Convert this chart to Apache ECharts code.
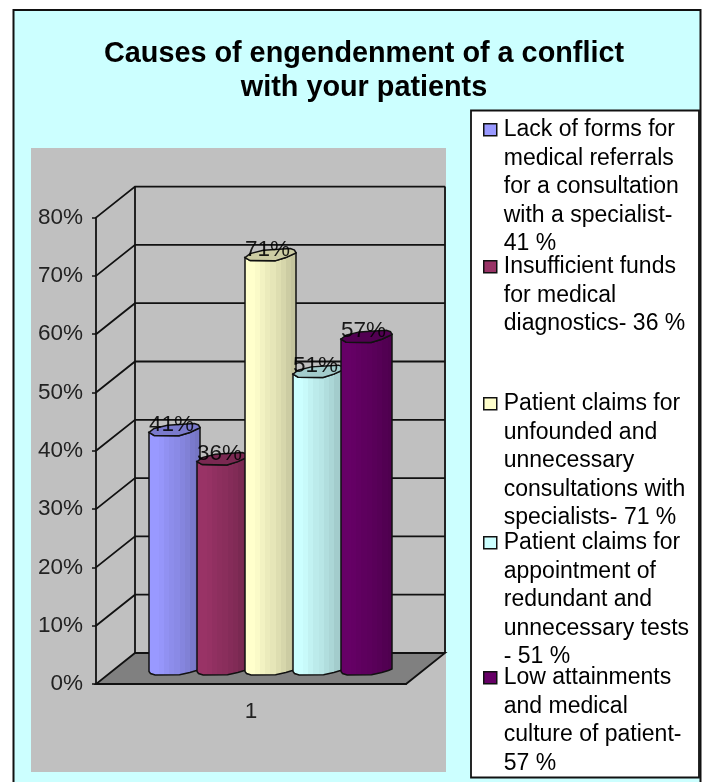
<!DOCTYPE html>
<html>
<head>
<meta charset="utf-8">
<style>html,body{margin:0;padding:0;background:#fff}#c{width:705px;height:782px}</style>
<script src="https://cdn.jsdelivr.net/npm/echarts@6/dist/echarts.min.js"></script>
</head>
<body>
<div id="c"></div>
<script>
const categories = ['1'];
const titleText = 'Causes of engendenment of a conflict\nwith your patients';
const names = [
  'Lack of forms for\nmedical referrals\nfor a consultation\nwith a specialist-\n41 %',
  'Insufficient funds\nfor medical\ndiagnostics- 36 %',
  'Patient claims for\nunfounded and\nunnecessary\nconsultations with\nspecialists- 71 %',
  'Patient claims for\nappointment of\nredundant and\nunnecessary tests\n- 51 %',
  'Low attainments\nand medical\nculture of patient-\n57 %'
];
const values = [41, 36, 71, 51, 57];
const labels = ['41%', '36%', '71%', '51%', '57%'];
const gridValues = [0, 10, 20, 30, 40, 50, 60, 70, 80];
const colors = ['#9999FF', '#993366', '#FFFFCC', '#CCFFFF', '#660066'];

const FONT = '"Liberation Sans", Arial, sans-serif';
const DEPTH = [39, -31];
const LINE = '#111';
const BARW = 51, STEP = 48;
const legendFirstLine = [129, 266, 403, 542, 677];
const LH = 28.6;

function shade(hex, k) {
  const n = parseInt(hex.slice(1), 16);
  const f = v => Math.round(v * k);
  return `rgb(${f(n >> 16 & 255)},${f(n >> 8 & 255)},${f(n & 255)})`;
}
function facets(hex) {
  const ks = [1, 1, 0.98, 0.95, 0.92, 0.9, 0.87, 0.84, 0.8, 0.77];
  const stops = [];
  ks.forEach((k, i) => {
    stops.push({offset: i / ks.length, color: shade(hex, k)});
    stops.push({offset: (i + 1) / ks.length, color: shade(hex, k)});
  });
  return new echarts.graphic.LinearGradient(0, 0, 1, 0, stops);
}
const capShape = [[0,3],[0.1,6],[0.59,6.3],[0.8,3],[1,-1.7],[0.97,-4.5],[0.89,-6],[0.36,-4.3],[0.1,-1]];
const baseShape = [[1,0.5],[0.93,2],[0.8,4],[0.6,6.3],[0.12,6.5],[0.03,5],[0,3]];

function wallItem(params, api) {
  const v = api.value(1);
  const w = api.size([1, 0])[0];
  const p = api.coord([0, v]);
  const x0 = p[0] - w / 2, x1 = p[0] + w / 2, y = p[1];
  const dx = DEPTH[0], dy = DEPTH[1];
  const ls = {stroke: LINE, lineWidth: 1.8, fill: null};
  const children = [];
  if (v === 0) {
    const top = api.coord([0, gridValues[gridValues.length - 1]])[1];
    children.push({type: 'polygon', shape: {points: [[x0, y], [x1, y], [x1 + dx, y + dy], [x0 + dx, y + dy]]},
      style: {fill: '#808080', stroke: LINE, lineWidth: 1.8}});
    children.push({type: 'polyline', shape: {points: [[x0 + dx, y + dy], [x0 + dx, top + dy]]}, style: ls});
    children.push({type: 'polyline', shape: {points: [[x1 + dx, y + dy], [x1 + dx, top + dy]]}, style: ls});
  } else {
    children.push({type: 'polyline', shape: {points: [[x0, y], [x0 + dx, y + dy], [x1 + dx, y + dy]]}, style: ls});
  }
  return {type: 'group', children};
}
function barItem(i) {
  return function (params, api) {
    const base = api.coord([0, 0]);
    const top = api.coord([0, api.value(1)]);
    const cx = base[0] + DEPTH[0] / 2 + (i - 2) * STEP;
    const left = cx - BARW / 2;
    const by = base[1] + DEPTH[1] / 2, ty = top[1] + DEPTH[1] / 2;
    const capPts = capShape.map(c => [left + c[0] * BARW, ty + c[1]]);
    const front = capShape.slice(0, 5).map(c => [left + c[0] * BARW, ty + c[1]]);
    const bottom = baseShape.map(c => [left + c[0] * BARW, by + c[1]]);
    return {type: 'group', children: [
      {type: 'polygon', shape: {points: front.concat(bottom)},
        style: {fill: facets(colors[i]), stroke: LINE, lineWidth: 1.5}},
      {type: 'polygon', shape: {points: capPts},
        style: {fill: shade(colors[i], 0.8), stroke: LINE, lineWidth: 1.5}},
      {type: 'text', z2: 100, style: {text: labels[i], x: cx - 3, y: ty - 5, align: 'center', verticalAlign: 'middle',
        font: '22.5px ' + FONT, fill: '#000', opacity: 0.88}}
    ]};
  };
}

const series = [{
  type: 'custom', name: 'walls', silent: true, clip: false, z: 1,
  data: gridValues.map(v => [0, v]), encode: {x: 0, y: 1}, renderItem: wallItem
}].concat(values.map((v, i) => ({
  type: 'custom', name: names[i], clip: false, z: 2 + i,
  itemStyle: {color: colors[i]},
  data: [[0, v]], encode: {x: 0, y: 1}, renderItem: barItem(i)
})));

const legends = names.map((n, i) => {
  const lines = n.split('\n').length;
  const h = lines * LH;
  return {
    data: [n], left: 482, top: legendFirstLine[i] - LH / 2, padding: 0, orient: 'vertical',
    selectedMode: false, itemWidth: 16, itemHeight: h, symbolKeepAspect: false,
    icon: `path://M0 0h0M1 ${LH / 2 - 6}H14V${LH / 2 + 6}H1ZM16 ${h}h0`,
    itemStyle: {borderColor: '#111', borderWidth: 1.5},
    textStyle: {fontFamily: FONT, fontSize: 23, lineHeight: LH, color: '#000'}
  };
});

const chart = echarts.init(document.getElementById('c'), null, {renderer: 'canvas'});
chart.setOption({
  animation: false,
  backgroundColor: '#fff',
  title: {text: titleText, left: 359, top: 32, textAlign: 'center',
    textStyle: {fontFamily: FONT, fontSize: 28.8, fontWeight: 'bold', lineHeight: 34, color: '#000'}},
  legend: legends,
  grid: {left: 96, top: 217.6, width: 310, height: 466.4},
  xAxis: {type: 'category', data: categories, boundaryGap: true,
    axisLine: {lineStyle: {color: LINE, width: 1.8}},
    axisTick: {length: 4, lineStyle: {color: LINE, width: 1.5}},
    axisLabel: {fontFamily: FONT, fontSize: 22.5, color: '#222', margin: 16}},
  yAxis: {type: 'value', min: 0, max: 80, interval: 10,
    axisLine: {show: true, lineStyle: {color: LINE, width: 1.8}},
    axisTick: {show: true, length: 4, lineStyle: {color: LINE, width: 1.5}},
    splitLine: {show: false},
    axisLabel: {formatter: '{value}%', fontFamily: FONT, fontSize: 22.5, color: '#222', margin: 13}},
  graphic: [
    {type: 'rect', z: -30, shape: {x: 13.5, y: 10, width: 687, height: 790},
      style: {fill: '#CCFFFF', stroke: '#111', lineWidth: 2}},
    {type: 'rect', z: -20, shape: {x: 31, y: 148, width: 415, height: 624}, style: {fill: '#C0C0C0'}},
    {type: 'rect', z: -20, shape: {x: 471, y: 110.5, width: 228, height: 667},
      style: {fill: '#fff', stroke: '#111', lineWidth: 1.8}}
  ],
  series
});
</script>
</body>
</html>
